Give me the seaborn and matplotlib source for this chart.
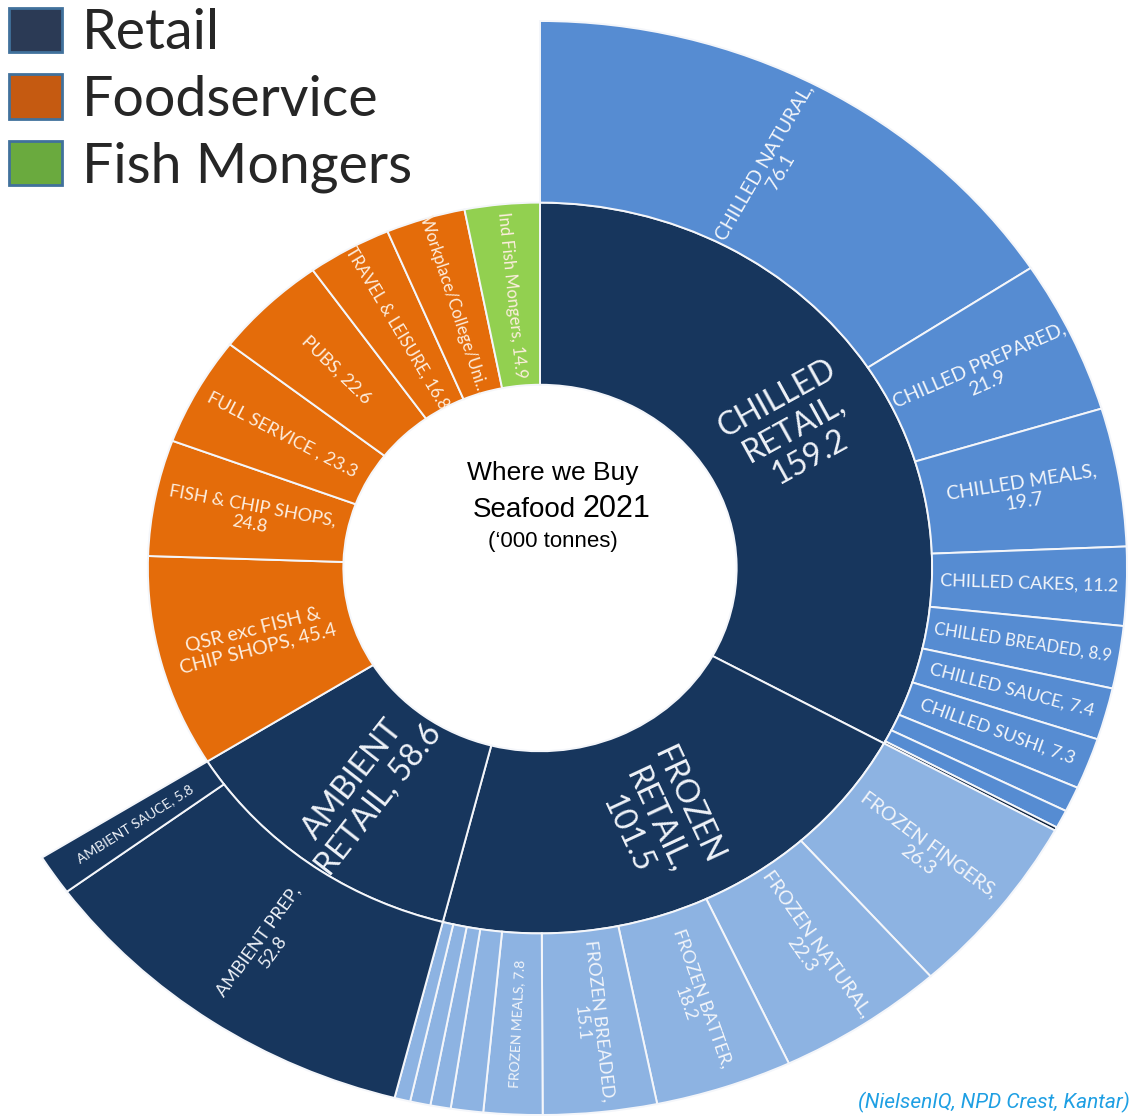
import numpy as np
import matplotlib
matplotlib.use("Agg")
import matplotlib.pyplot as plt
from matplotlib.patches import Patch
import seaborn as sns

# =========================================
# DATA ('000 tonnes, 2021)
# =========================================

inner_labels = [
    "CHILLED\nRETAIL,\n159.2", "FROZEN\nRETAIL,\n101.5", "AMBIENT\nRETAIL, 58.6",
    "QSR exc FISH &\nCHIP SHOPS, 45.4", "FISH & CHIP SHOPS,\n24.8",
    "FULL SERVICE , 23.3", "PUBS, 22.6", "TRAVEL & LEISURE, 16.8",
    "Workplace/College/Uni…", "Ind Fish Mongers, 14.9",
]
inner_values = [159.2, 101.5, 58.6, 45.4, 24.8, 23.3, 22.6, 16.8, 15.8, 14.9]
inner_group = ["Retail", "Retail", "Retail", "Foodservice", "Foodservice",
               "Foodservice", "Foodservice", "Foodservice", "Foodservice",
               "Fish Mongers"]

chilled_labels = ["CHILLED NATURAL,\n76.1", "CHILLED PREPARED,\n21.9",
                  "CHILLED MEALS,\n19.7", "CHILLED CAKES, 11.2",
                  "CHILLED BREADED, 8.9", "CHILLED SAUCE, 7.4",
                  "CHILLED SUSHI, 7.3", "", "", ""]
chilled_values = [76.1, 21.9, 19.7, 11.2, 8.9, 7.4, 7.3, 3.6, 2.6, 0.5]

frozen_labels = ["FROZEN FINGERS,\n26.3", "FROZEN NATURAL,\n22.3",
                 "FROZEN BATTER,\n18.2", "FROZEN BREADED,\n15.1",
                 "FROZEN MEALS, 7.8", "", "", "", ""]
frozen_values = [26.3, 22.3, 18.2, 15.1, 7.8, 4.3, 2.7, 2.7, 2.1]

ambient_labels = ["AMBIENT PREP,\n52.8", "AMBIENT SAUCE, 5.8"]
ambient_values = [52.8, 5.8]

legend_names = ["Retail", "Foodservice", "Fish Mongers"]

# =========================================
# STYLE
# =========================================

sns.set_theme(style="white")
plt.rcParams["font.family"] = ["Lato", "DejaVu Sans"]

NAVY = "#17365D"
CHILLED = "#568CD2"
FROZEN = "#8DB3E2"
ORANGE = "#E46C0A"
GREEN = "#92D050"
group_colors = {"Retail": NAVY, "Foodservice": ORANGE, "Fish Mongers": GREEN}
legend_colors = ["#2B3A55", "#C55A11", "#6AAA3E"]

inner_sizes = [23, 23, 23, 14, 13, 13, 13, 12, 12, 12]
chilled_sizes = [14, 14, 14, 13, 12, 13, 13, 9, 9, 9]
frozen_sizes = [14, 14, 13, 13, 10, 9, 9, 9, 9]
ambient_sizes = [13, 10]

R_HOLE, R_MID, R_OUT = 0.335, 0.668, 1.0

fig = plt.figure(figsize=(11.4, 11.2), dpi=100)
ax = fig.add_axes([0, 0, 1, 1])

# =========================================
# INNER RING
# =========================================

inner_colors = [group_colors[g] for g in inner_group]
ax.pie(inner_values, radius=R_MID, startangle=90, counterclock=False,
       colors=inner_colors,
       wedgeprops=dict(width=R_MID - R_HOLE, edgecolor="#F4F6FA", linewidth=1.4))

# =========================================
# OUTER RING (retail only)
# =========================================

retail_total = sum(inner_values[:3])
rest_total = sum(inner_values) - retail_total
outer_values = chilled_values + frozen_values + ambient_values + [rest_total]
outer_colors = ([CHILLED] * (len(chilled_values) - 1) + ["#0F2440"]
                + [FROZEN] * len(frozen_values)
                + [NAVY] * len(ambient_values) + ["none"])
outer_wedges, _ = ax.pie(outer_values, radius=R_OUT, startangle=90, counterclock=False,
                         colors=outer_colors,
                         wedgeprops=dict(width=R_OUT - R_MID, edgecolor="#F4F6FA",
                                         linewidth=1.4))
outer_wedges[-1].set_edgecolor("none")

# slightly wider than tall, as in the source picture
cx, cy = 540, 568
sx, sy = 587, 547
ax.set_aspect("auto")
ax.set_xlim(-cx / sx, (1140 - cx) / sx)
ax.set_ylim(-(1120 - cy) / sy, cy / sy)
ax.axis("off")


def put_labels(values, labels, sizes, start, r, colour):
    total = sum(inner_values)
    acc = start
    for v, lab, fs in zip(values, labels, sizes):
        mid = (acc + v / 2) / total * 2 * np.pi
        acc += v
        if not lab:
            continue
        x, y = r * np.sin(mid), r * np.cos(mid)
        rot = np.degrees(np.arctan2(sy * np.cos(mid), sx * np.sin(mid)))
        if np.sin(mid) < 0:
            rot += 180
        ax.text(x, y, lab, rotation=rot, rotation_mode="anchor",
                ha="center", va="center", multialignment="center",
                fontsize=fs, color=colour, linespacing=1.15)


r_in = (R_HOLE + R_MID) / 2
r_out = (R_MID + R_OUT) / 2
put_labels(inner_values[:3], inner_labels[:3], inner_sizes[:3], 0, r_in, "#EEF2F8")
put_labels(inner_values[3:], inner_labels[3:], inner_sizes[3:], retail_total, r_in, "#FDEEDF")
put_labels(chilled_values, chilled_labels, chilled_sizes, 0, r_out, "#F2F5FA")
put_labels(frozen_values, frozen_labels, frozen_sizes, inner_values[0], r_out, "#F2F5FA")
put_labels(ambient_values, ambient_labels, ambient_sizes,
           inner_values[0] + inner_values[1], r_out, "#EEF2F8")

# =========================================
# CENTRE TITLE
# =========================================

title_font = ["Liberation Sans", "DejaVu Sans"]
fig.text(553 / 1140, 1 - 473 / 1120, "Where we Buy", ha="center", va="center",
         fontsize=19, family=title_font, color="black")
fig.text(576 / 1140, 1 - 517 / 1120, "Seafood", ha="right", va="baseline",
         fontsize=20, family=title_font, color="black")
fig.text(582 / 1140, 1 - 517 / 1120, "2021", ha="left", va="baseline",
         fontsize=22, family=title_font, color="black")
fig.text(553 / 1140, 1 - 541 / 1120, "(\u2018000 tonnes)", ha="center", va="center",
         fontsize=16, family=title_font, color="black")

# =========================================
# LEGEND + SOURCE
# =========================================

handles = [Patch(facecolor=c, edgecolor="#41719C", linewidth=2, label=n)
           for c, n in zip(legend_colors, legend_names)]
fig.legend(handles=handles, loc="upper left", bbox_to_anchor=(9 / 1140, 1 - 8 / 1120),
           frameon=False, fontsize=40, handlelength=0.95, handleheight=0.85,
           handletextpad=0.36, labelspacing=0.27, borderpad=0, borderaxespad=0)

fig.text(1130 / 1140, 1 - 1102 / 1120, "(NielsenIQ, NPD Crest, Kantar)",
         ha="right", va="center", fontsize=15, style="italic",
         family=["Roboto", "DejaVu Sans"], color="#1E9FE3")

fig.savefig("out.png", dpi=100, facecolor="white")
